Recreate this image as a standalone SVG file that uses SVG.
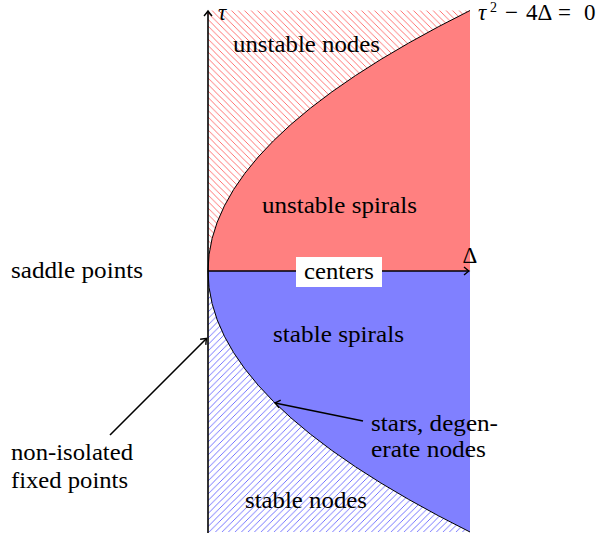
<svg xmlns="http://www.w3.org/2000/svg" width="602" height="537" viewBox="0 0 602 537">
<style>
  text { font-family: "Liberation Serif", "DejaVu Serif", "Times New Roman", serif; font-size: 23px; fill: #000; }
  .it { font-style: italic; }
  .axis { stroke: #000; stroke-width: 1.6; fill: none; }
  .ptr { stroke: #000; stroke-width: 1.6; fill: none; }
  .curve { stroke: #000; stroke-width: 1; fill: none; }
</style>
<defs>
  <pattern id="nwRed" patternUnits="userSpaceOnUse" width="6.5" height="6.5">
    <path d="M-1,-1 L7.5,7.5 M-1,5.5 L1,7.5 M5.5,-1 L7.5,1" stroke="#ff3030" stroke-width="0.9" stroke-opacity="0.75"/>
  </pattern>
  <pattern id="neBlue" patternUnits="userSpaceOnUse" width="6.5" height="6.5">
    <path d="M-1,7.5 L7.5,-1 M-1,1 L1,-1 M5.5,7.5 L7.5,5.5" stroke="#3030ff" stroke-width="0.9" stroke-opacity="0.75"/>
  </pattern>
  <marker id="to" markerWidth="10" markerHeight="10" refX="0" refY="0" viewBox="-6 -5 8 10" orient="auto" markerUnits="userSpaceOnUse">
    <path d="M-5,-4 Q-1.5,-1 0,0 Q-1.5,1 -5,4" fill="none" stroke="#000" stroke-width="1.4"/>
  </marker>
</defs>

<g id="regions">
  <path id="unstable-nodes-region" d="M208,10.5 L470,10.5 Q208,140.75 208,271 Z" fill="url(#nwRed)"/>
  <path id="unstable-spirals-region" d="M208,271 Q208,140.75 470,10.5 L470,271 Z" fill="#ff8080"/>
  <path id="stable-spirals-region" d="M208,271 L470,271 L470,532 Q208,401.5 208,271 Z" fill="#8080ff"/>
  <path id="stable-nodes-region" d="M208,271 Q208,401.5 470,532 L208,532 Z" fill="url(#neBlue)"/>
  <path id="parabola" class="curve" d="M470,10.5 Q208,140.75 208,271 Q208,401.5 470,532"/>
</g>

<g id="connectors">
  <line id="tau-axis" class="axis" x1="208" y1="533" x2="208" y2="11" marker-end="url(#to)"/>
  <line id="delta-axis" class="axis" x1="208" y1="271" x2="469" y2="271" marker-end="url(#to)"/>
  <line id="arrow-nonisolated" class="ptr" x1="110" y1="435" x2="206.5" y2="338.5" marker-end="url(#to)"/>
  <line id="arrow-stars" class="ptr" x1="363" y1="421" x2="275" y2="403" marker-end="url(#to)"/>
</g>

<g id="label-tau"><text class="it" x="218" y="20" font-size="20">τ</text></g>
<g id="label-parabola">
  <text x="478" y="20"><tspan class="it">τ</tspan><tspan x="490" y="12" font-size="14">2</tspan><tspan x="505" y="20">−</tspan><tspan x="526">4Δ</tspan><tspan x="558">=</tspan><tspan x="584">0</tspan></text>
</g>
<g id="label-delta"><text x="470" y="263" text-anchor="middle">Δ</text></g>
<g id="node-centers">
  <rect x="296" y="257" width="86" height="30" fill="#fff"/>
  <text x="304" y="279" textLength="70" lengthAdjust="spacingAndGlyphs">centers</text>
</g>
<g id="node-unstable-nodes"><text x="233" y="52" textLength="147" lengthAdjust="spacingAndGlyphs">unstable nodes</text></g>
<g id="node-unstable-spirals"><text x="262" y="213" textLength="155" lengthAdjust="spacingAndGlyphs">unstable spirals</text></g>
<g id="node-stable-spirals"><text x="273" y="342" textLength="131" lengthAdjust="spacingAndGlyphs">stable spirals</text></g>
<g id="node-stable-nodes"><text x="245" y="508" textLength="122" lengthAdjust="spacingAndGlyphs">stable nodes</text></g>
<g id="node-saddle-points"><text x="11" y="278" textLength="132" lengthAdjust="spacingAndGlyphs">saddle points</text></g>
<g id="node-stars">
  <text x="371" y="431" textLength="127" lengthAdjust="spacingAndGlyphs">stars, degen-</text>
  <text x="371" y="457" textLength="115" lengthAdjust="spacingAndGlyphs">erate nodes</text>
</g>
<g id="node-nonisolated">
  <text x="11" y="460" textLength="122" lengthAdjust="spacingAndGlyphs">non-isolated</text>
  <text x="11" y="488" textLength="117" lengthAdjust="spacingAndGlyphs">fixed points</text>
</g>
</svg>
